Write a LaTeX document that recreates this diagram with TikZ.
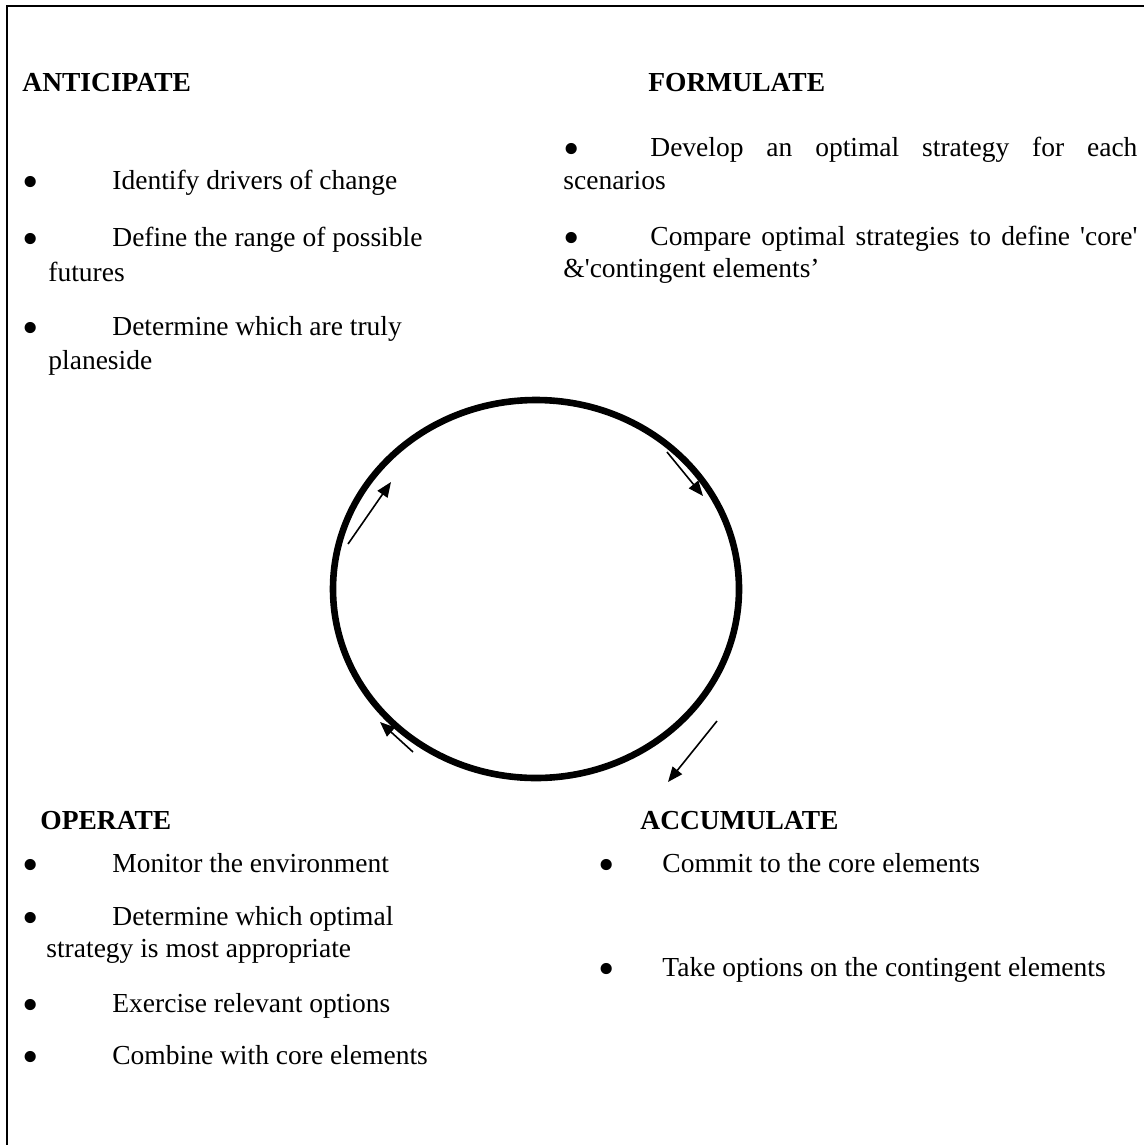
\documentclass[tikz,border=0pt]{standalone}
\usepackage{fontspec}
\setmainfont{Liberation Serif}
\usetikzlibrary{arrows.meta}
\newcommand{\bigbullet}{\raisebox{-0.3em}[0.5em][0pt]{\scalebox{1.7}{\textbullet}}}

\begin{document}
\begin{tikzpicture}[x=0.5pt,y=-0.5pt,
    txt/.style ={anchor=base west, inner sep=0pt, font=\fontsize{13.75}{16}\selectfont},
    head/.style ={txt, font=\fontsize{13.75}{16}\selectfont\bfseries},
    cycle/.style ={line width=3.3pt},
    turn/.style ={line width=0.8pt, -{Triangle[length=7.5pt,width=6pt]}}]
   \useasboundingbox (0,0) rectangle (1144,1145);
   \draw[line width=1pt] (7,1145) -- (7,6) -- (1144,6);
   % anticipate
   \node[head] (ant) at (22,91) {ANTICIPATE};
   \node[txt] (ant1b) at (22,189) {\bigbullet};
   \node[txt] (ant1) at (112,189) {Identify drivers of change};
   \node[txt] (ant2b) at (22,246) {\bigbullet};
   \node[txt] (ant2) at (112,246) {Define the range of possible};
   \node[txt] (ant2c) at (48,281) {futures};
   \node[txt] (ant3b) at (22,335) {\bigbullet};
   \node[txt] (ant3) at (112,335) {Determine which are truly};
   \node[txt] (ant3c) at (48,369) {planeside};
   % formulate
   \node[head] (form) at (648,91) {FORMULATE};
   \node[txt] (form1b) at (563,156) {\bigbullet};
   \node[txt] (form1) at (650,156) {\makebox[243.5pt][s]{Develop an optimal strategy for each}};
   \node[txt] (form1c) at (563,189) {scenarios};
   \node[txt] (form2b) at (563,245) {\bigbullet};
   \node[txt] (form2) at (650,245) {\makebox[243.5pt][s]{Compare optimal strategies to define \textquotesingle core\textquotesingle}};
   \node[txt] (form2c) at (563,277) {\&\textquotesingle contingent elements’};
   % operate
   \node[head] (op) at (40,829) {OPERATE};
   \node[txt] (op1b) at (22,872) {\bigbullet};
   \node[txt] (op1) at (112,872) {Monitor the environment};
   \node[txt] (op2b) at (22,925) {\bigbullet};
   \node[txt] (op2) at (112,925) {Determine which optimal};
   \node[txt] (op2c) at (46,957) {strategy is most appropriate};
   \node[txt] (op3b) at (22,1012) {\bigbullet};
   \node[txt] (op3) at (112,1012) {Exercise relevant options};
   \node[txt] (op4b) at (22,1064) {\bigbullet};
   \node[txt] (op4) at (112,1064) {Combine with core elements};
   % accumulate
   \node[head] (acc) at (640,829) {ACCUMULATE};
   \node[txt] (acc1b) at (598,872) {\bigbullet};
   \node[txt] (acc1) at (662,872) {Commit to the core elements};
   \node[txt] (acc2b) at (598,976) {\bigbullet};
   \node[txt] (acc2) at (662,976) {Take options on the contingent elements};
   % cycle
   \draw[cycle] (536,589) ellipse [x radius=203, y radius=189];
   \coordinate (a1) at (348,544); \coordinate (a2) at (391,482);
   \coordinate (b1) at (667,452); \coordinate (b2) at (703,496);
   \coordinate (c1) at (717,721); \coordinate (c2) at (668,782);
   \coordinate (d1) at (413,752); \coordinate (d2) at (380,722);
   \draw[turn] (a1) to (a2);
   \draw[turn] (b1) to (b2);
   \draw[turn] (c1) to (c2);
   \draw[turn] (d1) to (d2);
\end{tikzpicture}
\end{document}
